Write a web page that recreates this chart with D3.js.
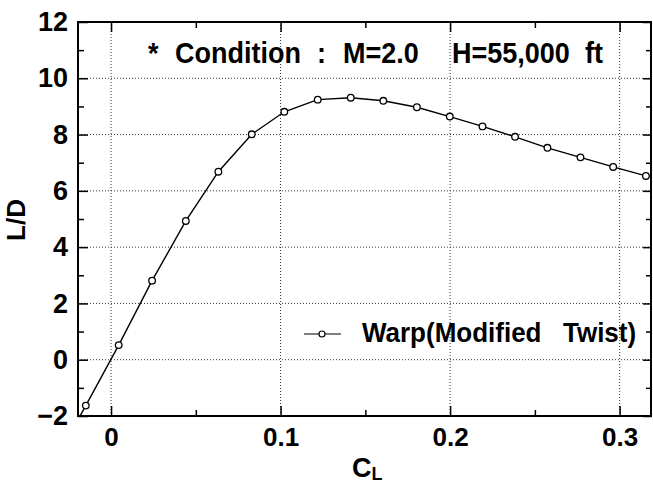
<!DOCTYPE html>
<html>
<head>
<meta charset="utf-8">
<script src="https://cdn.jsdelivr.net/npm/d3@7"></script>
<style>
  body { margin: 0; background: #fff; }
  svg text { font-family: "Liberation Sans", Arial, Helvetica, sans-serif; font-weight: bold; fill: #000; }
  .grid line { stroke: #333; stroke-width: 1; stroke-dasharray: 1,2; }
  .axis path { display: none; }
  .axis line { stroke: #000; stroke-width: 1.5; }
  .line { fill: none; stroke: #000; stroke-width: 1.4; }
</style>
</head>
<body>
<svg id="chart" width="653" height="484"></svg>
<script>
// C_L vs L/D, warp (modified twist); first point sits below the frame and is clipped
const cl = [-0.0344, -0.0149, 0.0045, 0.0242, 0.0441, 0.0633, 0.0830, 0.1022, 0.1219, 0.1414,
            0.1606, 0.1804, 0.1998, 0.2191, 0.2383, 0.2574, 0.2769, 0.2962, 0.3155];
const ld = [-3.75, -1.63, 0.52, 2.81, 4.93, 6.68, 8.01, 8.81, 9.24, 9.31,
            9.20, 8.97, 8.64, 8.29, 7.92, 7.53, 7.19, 6.85, 6.53];

const xMajor = [0, 0.1, 0.2, 0.3];
const xMinor = [0.05, 0.15, 0.25];
const yMajor = [-2, 0, 2, 4, 6, 8, 10, 12];
const yMinor = [-1, 1, 3, 5, 7, 9, 11];
const xGrid = [0, 0.1, 0.2, 0.3];
const yGrid = [0, 2, 4, 6, 8, 10];

const seriesName = ['Warp(Modified', 'Twist)'];
const titleParts = ['*', 'Condition', ':', 'M=2.0', 'H=55,000', 'ft'];

const data = cl.map((c, i) => ({cl: c, ld: ld[i]}));

const margin = {top: 22, right: 2, bottom: 68, left: 78};
const W = 653, H = 484;
const width = W - margin.left - margin.right;
const height = H - margin.top - margin.bottom;

const svg = d3.select('#chart');
const g = svg.append('g')
  .attr('transform', 'translate(' + margin.left + ',' + margin.top + ')');

const x = d3.scaleLinear().domain([-0.0195, 0.3185]).range([0, width]);
const y = d3.scaleLinear().domain([-2, 12]).range([height, 0]);

// dotted grid
const grid = g.append('g').attr('class', 'grid');
grid.selectAll('.gx').data(xGrid).enter().append('line')
  .attr('x1', d => x(d)).attr('x2', d => x(d))
  .attr('y1', 0).attr('y2', height);
grid.selectAll('.gy').data(yGrid).enter().append('line')
  .attr('x1', 0).attr('x2', width)
  .attr('y1', d => y(d)).attr('y2', d => y(d));

// ticks pointing inward, on all four sides
function ticks(axisFn, scale, vals, size, tr) {
  return g.append('g').attr('class', 'axis')
    .attr('transform', tr)
    .call(axisFn(scale).tickValues(vals).tickSize(-size).tickFormat(''));
}
ticks(d3.axisBottom, x, xMinor, 6, 'translate(0,' + height + ')');
ticks(d3.axisTop, x, xMajor, 10, 'translate(0,0)');
ticks(d3.axisTop, x, xMinor, 6, 'translate(0,0)');
ticks(d3.axisLeft, y, yMinor, 6, 'translate(0,0)');
ticks(d3.axisRight, y, yMajor, 8, 'translate(' + width + ',0)');
ticks(d3.axisRight, y, yMinor, 5, 'translate(' + width + ',0)');

// labelled axes
const xAxis = g.append('g').attr('class', 'axis')
  .attr('transform', 'translate(0,' + height + ')')
  .call(d3.axisBottom(x).tickValues(xMajor).tickSize(-10).tickPadding(12)
    .tickFormat(d => d === 0 ? '0' : d3.format('.1f')(d)));
xAxis.selectAll('text').style('font-size', '26px');

const yAxis = g.append('g').attr('class', 'axis')
  .call(d3.axisLeft(y).tickValues(yMajor).tickSize(-10).tickPadding(10)
    .tickFormat(d => d < 0 ? '\u2212' + Math.abs(d) : d));
yAxis.selectAll('text').style('font-size', '27px');

// frame
g.append('rect')
  .attr('width', width).attr('height', height)
  .attr('fill', 'none').attr('stroke', '#000').attr('stroke-width', 2);

// data line, clipped to plot
svg.append('clipPath').attr('id', 'clip')
  .append('rect').attr('width', width).attr('height', height);
const plot = g.append('g').attr('clip-path', 'url(#clip)');

const valueLine = d3.line().x(d => x(d.cl)).y(d => y(d.ld));
plot.append('path').datum(data).attr('class', 'line').attr('d', valueLine);
plot.selectAll('circle').data(data).enter().append('circle')
  .attr('cx', d => x(d.cl)).attr('cy', d => y(d.ld))
  .attr('r', 3.3).attr('fill', '#fff').attr('stroke', '#000').attr('stroke-width', 1.3);

// title / condition (slightly stretched vertically like the scan)
const titleX = [148, 175, 317, 343, 452, 585];
const title = svg.append('text')
  .attr('transform', 'translate(0,63) scale(1,1.08)')
  .style('font-size', '27px');
title.selectAll('tspan').data(titleParts).enter().append('tspan')
  .attr('x', (d, i) => titleX[i]).text(d => d);

// legend
const lg = svg.append('g');
lg.append('line').attr('x1', 304).attr('x2', 341).attr('y1', 334).attr('y2', 334)
  .attr('stroke', '#000').attr('stroke-width', 1.2);
lg.append('circle').attr('cx', 322).attr('cy', 334).attr('r', 3)
  .attr('fill', '#fff').attr('stroke', '#000').attr('stroke-width', 1.2);
const lt = lg.append('text')
  .attr('transform', 'translate(0,342) scale(1,1.08)')
  .style('font-size', '26px');
lt.append('tspan').attr('x', 362).text(seriesName[0]);
lt.append('tspan').attr('x', 563).text(seriesName[1]);

// axis titles
svg.append('text')
  .attr('transform', 'translate(25,220) rotate(-90)')
  .attr('text-anchor', 'middle')
  .style('font-size', '26px')
  .text('L/D');
const xt = svg.append('text').attr('x', 352).attr('y', 477).style('font-size', '27px');
xt.append('tspan').text('C');
xt.append('tspan').attr('dy', 3).style('font-size', '18px').text('L');
</script>
</body>
</html>
